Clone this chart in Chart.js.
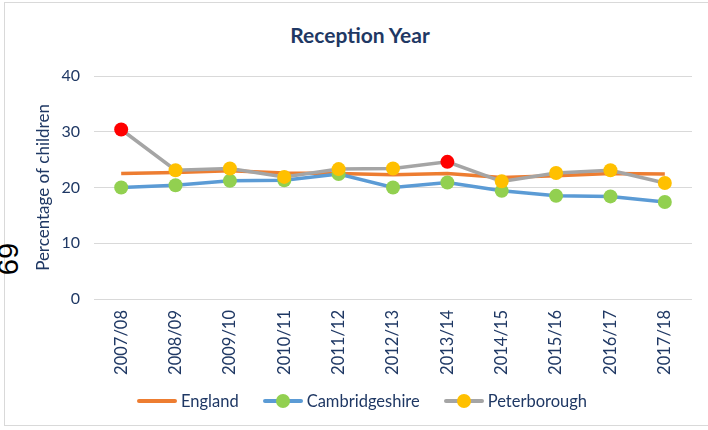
<!DOCTYPE html>
<html>
<head>
<meta charset="utf-8">
<script src="https://cdn.jsdelivr.net/npm/chart.js@4"></script>
<style>
  html, body { margin: 0; padding: 0; background: #fff; }
  body { width: 708px; height: 430px; position: relative; overflow: hidden; font-family: Lato, "Open Sans", sans-serif; }
  .frame { position: absolute; left: 4px; top: 2px; width: 740px; height: 424px; border: 1.5px solid #d9d9d9; box-sizing: border-box; }
  .title { position: absolute; left: 0; width: 720px; top: 22px; text-align: center; font-size: 21px; font-weight: bold; color: #1f3864; }
  .page-no { position: absolute; left: -8px; top: 242px; font-family: "Liberation Sans", sans-serif; font-size: 29px; line-height: 34px; color: #000; transform: rotate(90deg); transform-origin: center; }
  #wrap { position: absolute; left: 0; top: 0; width: 708px; height: 430px; }
  .legend { position: absolute; left: 137px; top: 391px; display: flex; gap: 24px; align-items: center; font-size: 16.5px; color: #1f3864; }
  .legend-item { display: flex; align-items: center; gap: 4px; }
  .swatch { position: relative; width: 40px; height: 4px; border-radius: 2px; }
  .swatch .dot { position: absolute; left: 13px; top: -5px; width: 14px; height: 14px; border-radius: 50%; }
</style>
</head>
<body>
<div class="frame"></div>
<div class="page-no">69</div>
<div class="title">Reception Year</div>
<div id="wrap"><canvas id="chart" width="708" height="430"></canvas></div>
<div class="legend" id="legend"></div>
<script>
const years = ['2007/08','2008/09','2009/10','2010/11','2011/12','2012/13','2013/14','2014/15','2015/16','2016/17','2017/18'];
const england = [22.5, 22.7, 23.0, 22.6, 22.5, 22.3, 22.5, 21.8, 22.1, 22.5, 22.4];
const cambridgeshire = [20.0, 20.4, 21.2, 21.3, 22.4, 20.0, 20.9, 19.4, 18.5, 18.4, 17.4];
const peterborough = [30.4, 23.1, 23.4, 21.9, 23.3, 23.4, 24.6, 21.1, 22.6, 23.1, 20.8];
// years where Peterborough is flagged red
const peterboroughFlagged = ['2007/08', '2013/14'];
const yTicks = [0, 10, 20, 30, 40];

const navy = '#1f3864';
const font = 'Lato, "Open Sans", sans-serif';

const datasets = [
    {
        label: 'England', data: england, order: 3,
        borderColor: '#ed7d31', backgroundColor: '#ed7d31',
        borderWidth: 3.5, pointRadius: 0, legendDot: null
    },
    {
        label: 'Cambridgeshire', data: cambridgeshire, order: 2,
        borderColor: '#5b9bd5', backgroundColor: '#92d050',
        borderWidth: 3.5, pointRadius: 7, pointBorderWidth: 0,
        pointBackgroundColor: '#92d050', legendDot: '#92d050'
    },
    {
        label: 'Peterborough', data: peterborough, order: 1,
        borderColor: '#a5a5a5', backgroundColor: '#ffc000',
        borderWidth: 3.5, pointRadius: 7, pointBorderWidth: 0,
        pointBackgroundColor: years.map(y => peterboroughFlagged.includes(y) ? '#ff0000' : '#ffc000'),
        legendDot: '#ffc000'
    }
];

const chart = new Chart(document.getElementById('chart').getContext('2d'), {
    type: 'line',
    data: { labels: years, datasets },
    options: {
        responsive: false,
        animation: false,
        layout: { padding: { top: 76, right: 16, bottom: 0, left: 0 } },
        plugins: { legend: { display: false }, tooltip: { enabled: false } },
        scales: {
            x: {
                offset: true,
                grid: { display: false, drawTicks: false },
                border: { display: false },
                ticks: { color: navy, font: { family: font, size: 16.5 }, minRotation: 90, maxRotation: 90, padding: 11, autoSkip: false },
                afterFit: s => { s.height = 131; }
            },
            y: {
                min: 0, max: 40,
                afterBuildTicks: s => { s.ticks = yTicks.map(v => ({ value: v })); },
                grid: { color: '#d9d9d9', lineWidth: 1, drawTicks: false },
                border: { display: false },
                ticks: { color: navy, font: { family: font, size: 16 }, padding: 14 },
                title: { display: true, text: 'Percentage of children', color: navy, font: { family: font, size: 17 }, padding: { top: 33, bottom: 0 } },
                afterFit: s => { s.width = 94; }
            }
        }
    }
});

// custom legend: line with a marker in the middle, like the source
function renderLegend(chart){
    const box = document.getElementById('legend');
    chart.data.datasets.forEach(ds => {
        const item = document.createElement('div');
        item.className = 'legend-item';
        const sw = document.createElement('span');
        sw.className = 'swatch';
        sw.style.background = ds.borderColor;
        if (ds.legendDot) {
            const dot = document.createElement('span');
            dot.className = 'dot';
            dot.style.background = ds.legendDot;
            sw.appendChild(dot);
        }
        const txt = document.createElement('span');
        txt.textContent = ds.label;
        item.appendChild(sw);
        item.appendChild(txt);
        box.appendChild(item);
    });
}
renderLegend(chart);
</script>
</body>
</html>
